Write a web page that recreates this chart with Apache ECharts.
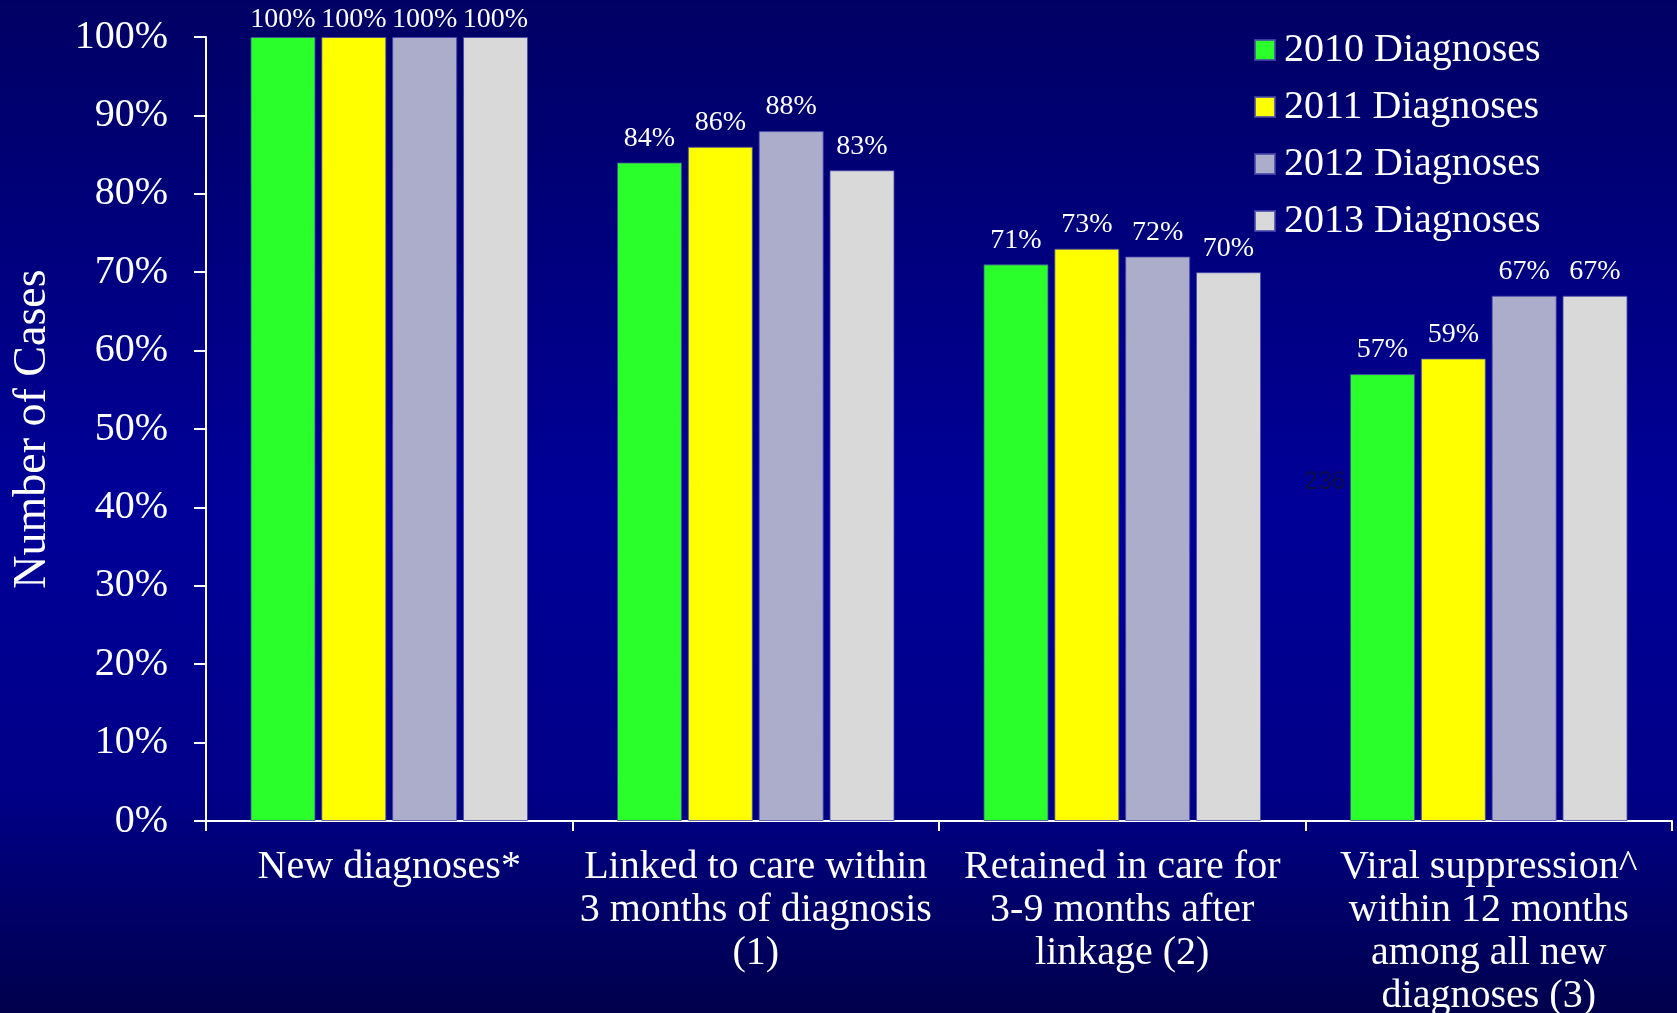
<!DOCTYPE html>
<html>
<head>
<meta charset="utf-8">
<script src="https://cdn.jsdelivr.net/npm/echarts@6/dist/echarts.min.js"></script>
<style>
  html, body { margin: 0; padding: 0; }
  #chart { width: 1677px; height: 1013px; }
</style>
</head>
<body>
<div id="chart"></div>
<script>
// Care continuum stages (x categories)
const stages = [
  'New diagnoses*',
  'Linked to care within\n3 months of diagnosis\n(1)',
  'Retained in care for\n3-9 months after\nlinkage (2)',
  'Viral suppression^\nwithin 12 months\namong all new\ndiagnoses (3)'
];

// Percent of cases by diagnosis year
const dx2010 = [100, 84, 71, 57];
const dx2011 = [100, 86, 73, 59];
const dx2012 = [100, 88, 72, 67];
const dx2013 = [100, 83, 70, 67];

const seriesNames = ['2010 Diagnoses', '2011 Diagnoses', '2012 Diagnoses', '2013 Diagnoses'];
const seriesColors = ['#2bff2b', '#ffff00', '#abadcb', '#d9d9d9'];

// Stray count note on the slide
const countNote = '236';

const FONT = '"Liberation Serif", "DejaVu Serif", serif';

function barSeries(name, data, color) {
  return {
    name: name,
    type: 'bar',
    // the first stage sits at the top edge, so its labels hug the bars
    data: data.map((v, i) => i === 0 ? { value: v, label: { distance: 3 } } : v),
    barWidth: 65,
    barGap: '9%',
    itemStyle: { color: color, borderColor: 'rgba(70,70,170,0.8)', borderWidth: 1 },
    label: {
      show: true,
      position: 'top',
      distance: 10,
      formatter: '{c}%',
      color: '#ffffff',
      fontFamily: FONT,
      fontSize: 28
    }
  };
}

const chart = echarts.init(document.getElementById('chart'));
chart.setOption({
  animation: false,
  backgroundColor: {
    type: 'linear', x: 0, y: 0, x2: 0, y2: 1,
    colorStops: [
      { offset: 0, color: '#000064' },
      { offset: 0.5, color: '#000098' },
      { offset: 0.78, color: '#000088' },
      { offset: 1, color: '#00004c' }
    ]
  },
  grid: {
    left: 206, right: 5, top: 37, bottom: 192,
    containLabel: false,
    outerBoundsMode: 'none'
  },
  legend: {
    orient: 'vertical',
    left: 1254,
    top: 30,
    padding: 0,
    icon: 'rect',
    itemWidth: 20,
    itemHeight: 20,
    itemGap: 17,
    data: seriesNames,
    textStyle: {
      color: '#ffffff',
      fontFamily: FONT,
      fontSize: 40,
      lineHeight: 40,
      padding: [0, 0, 0, 4]
    }
  },
  xAxis: {
    type: 'category',
    data: stages,
    axisLine: { show: true, lineStyle: { color: '#ffffff', width: 2 } },
    axisTick: { show: true, length: 10, lineStyle: { color: '#ffffff', width: 2 } },
    axisLabel: {
      interval: 0,
      margin: 25,
      color: '#ffffff',
      fontFamily: FONT,
      fontSize: 40,
      lineHeight: 43,
      align: 'center'
    }
  },
  yAxis: {
    type: 'value',
    min: 0,
    max: 100,
    interval: 10,
    name: 'Number of Cases',
    nameLocation: 'middle',
    nameGap: 150,
    nameTextStyle: { color: '#ffffff', fontFamily: FONT, fontSize: 46 },
    splitLine: { show: false },
    axisLine: { show: true, lineStyle: { color: '#ffffff', width: 2 } },
    axisTick: { show: true, length: 12, lineStyle: { color: '#ffffff', width: 2 } },
    axisLabel: {
      formatter: '{value}%',
      margin: 38,
      color: '#ffffff',
      fontFamily: FONT,
      fontSize: 40
    }
  },
  graphic: [{
    type: 'text',
    left: 1304,
    top: 470,
    style: {
      text: countNote,
      fill: '#0c0c4c',
      font: '25px "Liberation Sans", sans-serif'
    }
  }],
  series: [
    barSeries(seriesNames[0], dx2010, seriesColors[0]),
    barSeries(seriesNames[1], dx2011, seriesColors[1]),
    barSeries(seriesNames[2], dx2012, seriesColors[2]),
    barSeries(seriesNames[3], dx2013, seriesColors[3])
  ]
});
</script>
</body>
</html>
